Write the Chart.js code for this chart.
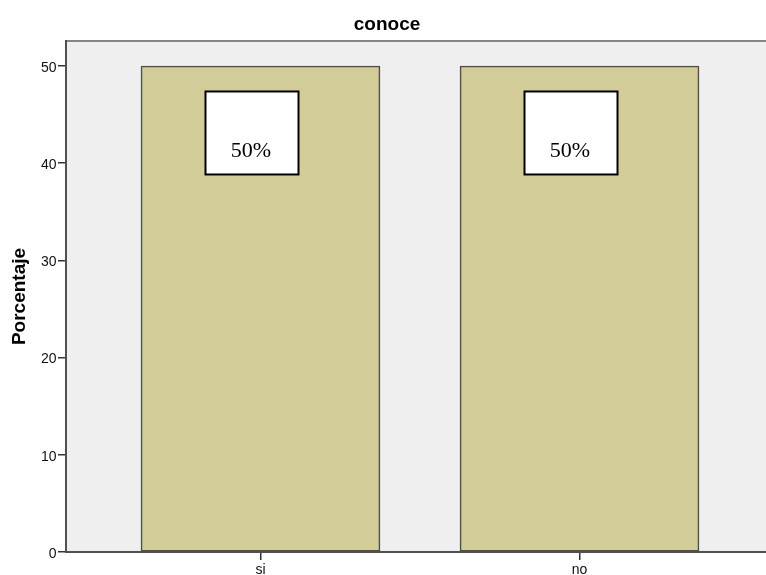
<!DOCTYPE html>
<html>
<head>
<meta charset="utf-8">
<script src="https://cdn.jsdelivr.net/npm/chart.js@4.4.1/dist/chart.umd.min.js"></script>
<style>
  html, body { margin: 0; padding: 0; background: #ffffff; }
  canvas { display: block; }
</style>
</head>
<body>
<canvas id="c" width="766" height="575"></canvas>
<script>
// ---- data ----
const chartTitle = 'conoce';
const yAxisTitle = 'Porcentaje';
const categories = ['si', 'no'];
const percentValues = [50, 50];
const barLabels = ['50%', '50%'];
const yTickValues = [0, 10, 20, 30, 40, 50];

const plotBg = {
  id: 'plotBg',
  beforeDraw(chart) {
    const { ctx, chartArea: a } = chart;
    ctx.save();
    ctx.fillStyle = '#efefef';
    ctx.fillRect(a.left, a.top, a.right - a.left, a.bottom - a.top);
    ctx.strokeStyle = '#858585';
    ctx.lineWidth = 2;
    ctx.beginPath();
    ctx.moveTo(a.left, a.top);
    ctx.lineTo(a.right, a.top);
    ctx.stroke();
    ctx.restore();
  }
};

const boxLabels = {
  id: 'boxLabels',
  afterDatasetsDraw(chart) {
    const { ctx } = chart;
    const meta = chart.getDatasetMeta(0);
    ctx.save();
    meta.data.forEach((bar, i) => {
      const cx = bar.x - 8.5;
      const w = 93, h = 83;
      const top = bar.y + 25.5;
      ctx.fillStyle = '#ffffff';
      ctx.fillRect(cx - w / 2, top, w, h);
      ctx.strokeStyle = '#000000';
      ctx.lineWidth = 2;
      ctx.strokeRect(cx - w / 2, top, w, h);
      ctx.fillStyle = '#000000';
      ctx.font = '22px "Liberation Serif", "Times New Roman", serif';
      ctx.textAlign = 'center';
      ctx.textBaseline = 'alphabetic';
      ctx.fillText(barLabels[i], cx - 1, top + 66);
    });
    ctx.restore();
  }
};

new Chart(document.getElementById('c'), {
  type: 'bar',
  data: {
    datasets: [{
      data: categories.map((c, i) => ({ x: i + 1, y: percentValues[i] })),
      backgroundColor: '#d2cd98',
      borderColor: '#4f4f48',
      borderWidth: 1.6,
      borderSkipped: false,
      barThickness: 239
    }]
  },
  options: {
    responsive: false,
    animation: false,
    layout: { padding: { left: 8, right: 0, top: 0, bottom: 0 } },
    plugins: {
      legend: { display: false },
      tooltip: { enabled: false },
      title: {
        display: true,
        text: chartTitle,
        color: '#000000',
        font: { family: '"Liberation Sans", Arial, sans-serif', size: 19, weight: 'bold' },
        padding: { top: 13, bottom: 5.2 }
      }
    },
    scales: {
      x: {
        type: 'linear',
        offset: false,
        min: 0.3903,
        max: 2.5846,
        afterBuildTicks(scale) { scale.ticks = categories.map((c, i) => ({ value: i + 1 })); },
        afterFit(scale) { scale.height = 23; },
        ticks: {
          autoSkip: false,
          maxRotation: 0,
          padding: 1.5,
          color: '#111111',
          font: { family: '"Liberation Sans", Arial, sans-serif', size: 14 },
          callback(v) { return categories[Math.round(v) - 1]; }
        },
        grid: { offset: false, drawOnChartArea: false, drawTicks: true, tickLength: 8, color: '#333333', lineWidth: 1.5 },
        border: { display: true, color: '#505050', width: 2 }
      },
      y: {
        min: 0,
        max: 52.57,
        afterBuildTicks(scale) { scale.ticks = yTickValues.map(v => ({ value: v })); },
        afterFit(scale) { scale.width = 58; },
        ticks: {
          padding: 1.5,
          labelOffset: 2,
          color: '#111111',
          font: { family: '"Liberation Sans", Arial, sans-serif', size: 14 }
        },
        grid: { drawOnChartArea: false, drawTicks: true, tickLength: 8, color: '#333333', lineWidth: 1.5 },
        border: { display: true, color: '#505050', width: 2 },
        title: {
          display: true,
          text: yAxisTitle,
          color: '#000000',
          padding: { top: 0, bottom: 0 },
          font: { family: '"Liberation Sans", Arial, sans-serif', size: 19, weight: 'bold' }
        }
      }
    }
  },
  plugins: [plotBg, boxLabels]
});
</script>
</body>
</html>
